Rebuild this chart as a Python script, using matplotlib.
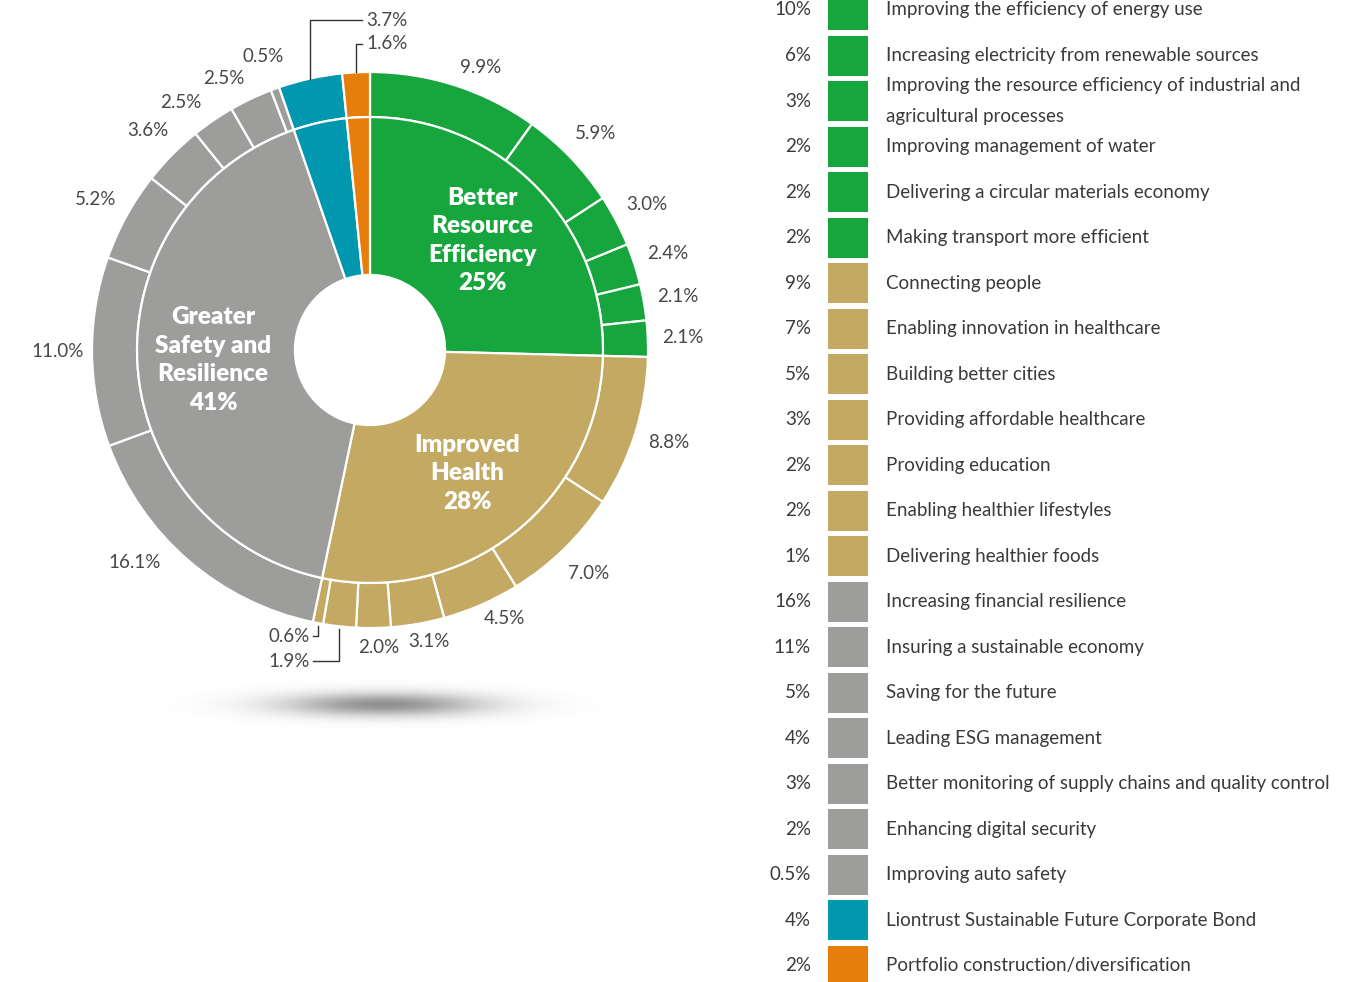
import numpy as np
import matplotlib
matplotlib.use('Agg')
import matplotlib.pyplot as plt

plt.rcParams['font.family'] = ['Lato', 'DejaVu Sans']

# ── Data ──────────────────────────────────────────────────────────────────────
themes = ['Better\nResource\nEfficiency', 'Improved\nHealth',
          'Greater\nSafety and\nResilience', None, None]
theme_colors = ['#17A53D', '#C3A962', '#9D9D9C', '#0097AF', '#E77E0B']

efficiency_vals = [9.9, 5.9, 3.0, 2.4, 2.1, 2.1]
health_vals = [8.8, 7.0, 4.5, 3.1, 2.0, 1.9, 0.6]
safety_vals = [16.1, 11.0, 5.2, 3.6, 2.5, 2.5, 0.5]
bond_vals = [3.7]
cash_vals = [1.6]

legend_pct = ['10%', '6%', '3%', '2%', '2%', '2%',
              '9%', '7%', '5%', '3%', '2%', '2%', '1%',
              '16%', '11%', '5%', '4%', '3%', '2%', '0.5%',
              '4%', '2%']
legend_labels = [
    'Improving the efficiency of energy use',
    'Increasing electricity from renewable sources',
    'Improving the resource efficiency of industrial and\nagricultural processes',
    'Improving management of water',
    'Delivering a circular materials economy',
    'Making transport more efficient',
    'Connecting people',
    'Enabling innovation in healthcare',
    'Building better cities',
    'Providing affordable healthcare',
    'Providing education',
    'Enabling healthier lifestyles',
    'Delivering healthier foods',
    'Increasing financial resilience',
    'Insuring a sustainable economy',
    'Saving for the future',
    'Leading ESG management',
    'Better monitoring of supply chains and quality control',
    'Enhancing digital security',
    'Improving auto safety',
    'Liontrust Sustainable Future Corporate Bond',
    'Portfolio construction/diversification',
]
legend_group = [0] * 6 + [1] * 7 + [2] * 7 + [3, 4]

groups = [efficiency_vals, health_vals, safety_vals, bond_vals, cash_vals]
outer_vals = [v for g in groups for v in g]
outer_cols = [theme_colors[i] for i, g in enumerate(groups) for _ in g]
inner_vals = [sum(g) for g in groups]

# small slices labelled with leader lines: index -> (label y, side)
leaders = {20: (1.187, 'up'), 21: (1.101, 'up'),
           12: (-1.029, 'down'), 11: (-1.119, 'down')}
# label nudges: index -> (angle shift in deg, radius)
nudges = {0: (-3.5, 1.09), 13: (-7, 1.14), 17: (3, 1.12), 18: (3, 1.11),
          8: (3, 1.08), 9: (1.5, 1.07), 10: (1, 1.07)}

LABEL = '#474747'
TXT = '#3a3a3a'
R_HOLE = 0.27
R_INNER = 0.838

# ── Figure ────────────────────────────────────────────────────────────────────
fig = plt.figure(figsize=(13.57, 9.82), dpi=100)

# pie axes: 740x740 px box, pie centre at (370, 350) px, radius 278 px
ax = fig.add_axes([0, 1 - 740 / 982, 740 / 1357, 740 / 982])

w_out, _ = ax.pie(outer_vals, radius=1.0, colors=outer_cols, startangle=90,
                  counterclock=False,
                  wedgeprops=dict(width=1 - R_INNER, edgecolor='white', linewidth=1.6))
w_in, _ = ax.pie(inner_vals, radius=R_INNER, colors=theme_colors, startangle=90,
                 counterclock=False,
                 wedgeprops=dict(width=R_INNER - R_HOLE, edgecolor='white', linewidth=1.6))

# outer labels
for i, (w, v) in enumerate(zip(w_out, outer_vals)):
    mid = (w.theta1 + w.theta2) / 2
    txt = f'{v:.1f}%'
    if i in leaders:
        ang = np.deg2rad(mid)
        ly, side = leaders[i]
        x0, y0 = np.cos(ang), np.sin(ang)
        if side == 'up':
            ax.plot([x0, x0, -0.029], [y0, ly, ly], color='#333333', lw=1)
            ax.text(-0.014, ly, txt, ha='left', va='center', fontsize=13.5,
                    color=LABEL)
        else:
            ax.plot([x0, x0, -0.205], [y0 - 0.01, ly, ly], color='#333333', lw=1)
            ax.text(-0.216, ly, txt, ha='right', va='center', fontsize=13.5,
                    color=LABEL)
        continue
    da, r = nudges.get(i, (0, 1.125))
    ang = np.deg2rad(mid + da)
    ax.text(r * np.cos(ang), r * np.sin(ang), txt, ha='center', va='center',
            fontsize=13.5, color=LABEL)

# inner labels
for w, name, v in zip(w_in, themes, inner_vals):
    if name is None:
        continue
    ang = np.deg2rad((w.theta1 + w.theta2) / 2)
    r = 0.565
    ax.text(r * np.cos(ang), r * np.sin(ang), f'{name}\n{v:.0f}%',
            ha='center', va='center', fontsize=17.5, fontweight='heavy',
            color='white', linespacing=1.36)

# soft shadow under the pie
gx = np.linspace(-1.0, 1.0, 400)
gy = np.linspace(-0.12, 0.12, 80)
GX, GY = np.meshgrid(gx, gy)
alpha = 0.65 * np.exp(-(GX / 0.36) ** 2 - (GY / 0.042) ** 2)
shade = np.zeros(GX.shape + (4,))
shade[..., :3] = 0.33
shade[..., 3] = alpha
ax.imshow(shade, extent=(-0.95, 1.05, -1.397, -1.157), aspect='auto',
          interpolation='bilinear', zorder=0)

ax.set_xlim(-370 / 278, 370 / 278)
ax.set_ylim(-390 / 278, 350 / 278)
ax.set_aspect('auto')
ax.axis('off')

# ── Legend column ─────────────────────────────────────────────────────────────
lax = fig.add_axes([740 / 1357, 0, 617 / 1357, 1])
rows = np.arange(len(legend_labels))
pitch = 45.52
lax.barh(rows, 40, left=828, height=40 / pitch,
         color=[theme_colors[g] for g in legend_group])
for r, pct, lab in zip(rows, legend_pct, legend_labels):
    lax.text(811, r, pct, ha='right', va='center', fontsize=13.5, color=TXT)
    lax.text(886, r, lab, ha='left', va='center', fontsize=13.5, color=TXT,
             linespacing=1.95)
lax.set_xlim(740, 1357)
lax.set_ylim((982 - 10) / pitch, -10 / pitch)
lax.axis('off')

fig.savefig('out.png', dpi=100)
